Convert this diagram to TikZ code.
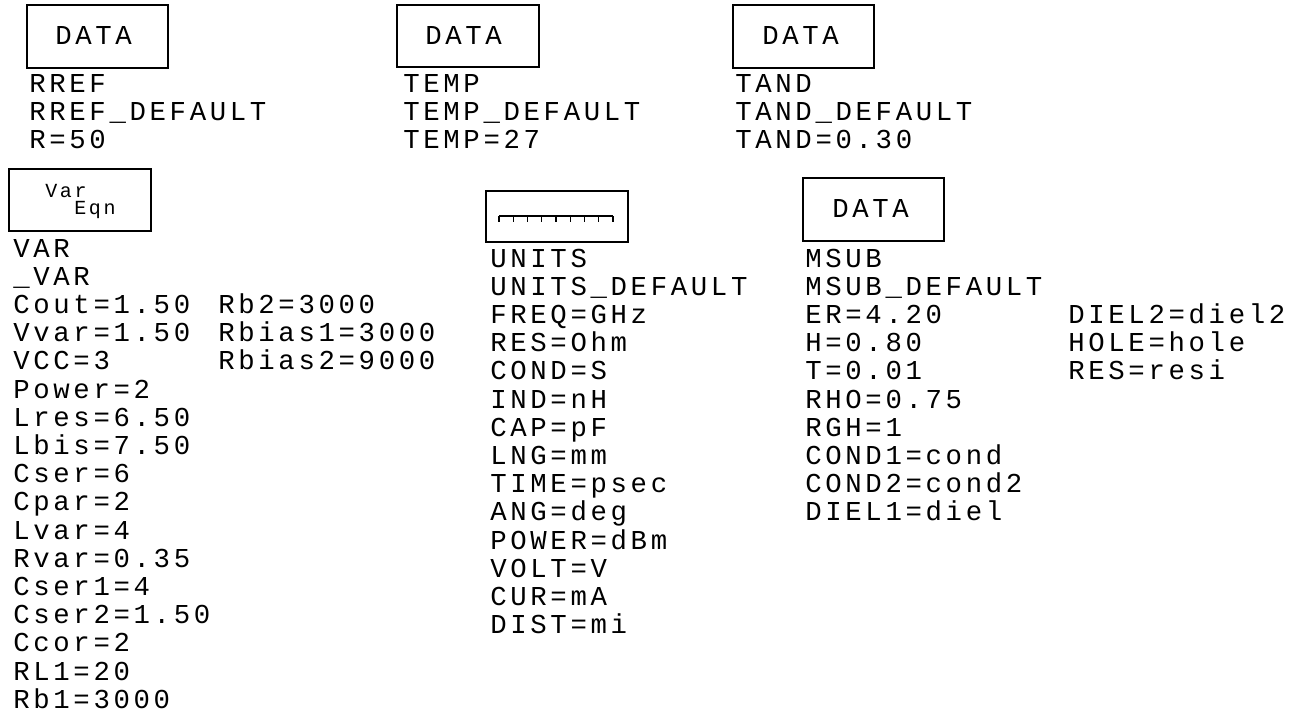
\documentclass[tikz,border=0pt]{standalone}
\usepackage{fontspec}
\newfontfamily\schfont[LetterSpace=13.4]{Liberation Mono}
\begin{document}
\begin{tikzpicture}[x=0.75pt,y=-0.75pt,
  lbl/.style={anchor=base west, inner sep=0pt, font=\schfont\fontsize{20.5}{22}\selectfont},
  tiny/.style={anchor=base west, inner sep=0pt, font=\schfont\fontsize{15}{16}\selectfont},
  symbox/.style={draw, line width=1pt}]
\fill[white] (0,0) rectangle (1291,714);
\useasboundingbox (0,0) rectangle (1291,714);

% DATA blocks on the top row
\draw[symbox] (27,5) rectangle (168,68);
\node[lbl] (d1) at (55,44) {DATA};
\node[lbl] (r1) at (29,92) {RREF};
\node[lbl] (r2) at (29,120.2) {RREF\_DEFAULT};
\node[lbl] (r3) at (29,148.4) {R=50};

\draw[symbox] (397,5) rectangle (539,67);
\node[lbl] (d2) at (425,44) {DATA};
\node[lbl] (t1) at (403,92) {TEMP};
\node[lbl] (t2) at (403,120.2) {TEMP\_DEFAULT};
\node[lbl] (t3) at (403,148.4) {TEMP=27};

\draw[symbox] (733,5) rectangle (874,68);
\node[lbl] (d3) at (762,44) {DATA};
\node[lbl] (a1) at (735,92) {TAND};
\node[lbl] (a2) at (735,120.2) {TAND\_DEFAULT};
\node[lbl] (a3) at (735,148.4) {TAND=0.30};

% variable equation block
\draw[symbox] (9,169) rectangle (151,231);
\node[tiny] (vq1) at (45,197) {Var};
\node[tiny] (vq2) at (74,214) {Eqn};
\foreach \t [count=\i from 0] in {VAR,\_VAR,Cout=1.50,Vvar=1.50,VCC=3,Power=2,Lres=6.50,Lbis=7.50,Cser=6,Cpar=2,Lvar=4,Rvar=0.35,Cser1=4,Cser2=1.50,Ccor=2,RL1=20,Rb1=3000}
  \node[lbl] (var\i) at (13,{257+\i*28.2}) {\t};
\foreach \t [count=\i from 2] in {Rb2=3000,Rbias1=3000,Rbias2=9000}
  \node[lbl] (varb\i) at (218,{257+\i*28.2}) {\t};

% units block with ruler icon
\draw[symbox] (486,191) rectangle (628,242);
\draw[line width=1pt] (499,216) -- (613,216);
\foreach \k in {0,...,8}
  \draw[line width=1pt] ({499+\k*14.25},216) -- ({499+\k*14.25},222);
\foreach \t [count=\i from 0] in {UNITS,UNITS\_DEFAULT,FREQ=GHz,RES=Ohm,COND=S,IND=nH,CAP=pF,LNG=mm,TIME=psec,ANG=deg,POWER=dBm,VOLT=V,CUR=mA,DIST=mi}
  \node[lbl] (u\i) at (490,{267+\i*28.2}) {\t};

% substrate block
\draw[symbox] (803,178) rectangle (944,241);
\node[lbl] (d4) at (832,217) {DATA};
\foreach \t [count=\i from 0] in {MSUB,MSUB\_DEFAULT,ER=4.20,H=0.80,T=0.01,RHO=0.75,RGH=1,COND1=cond,COND2=cond2,DIEL1=diel}
  \node[lbl] (m\i) at (805,{267+\i*28.2}) {\t};
\foreach \t [count=\i from 2] in {DIEL2=diel2,HOLE=hole,RES=resi}
  \node[lbl] (mb\i) at (1068,{267+\i*28.2}) {\t};
\end{tikzpicture}
\end{document}
